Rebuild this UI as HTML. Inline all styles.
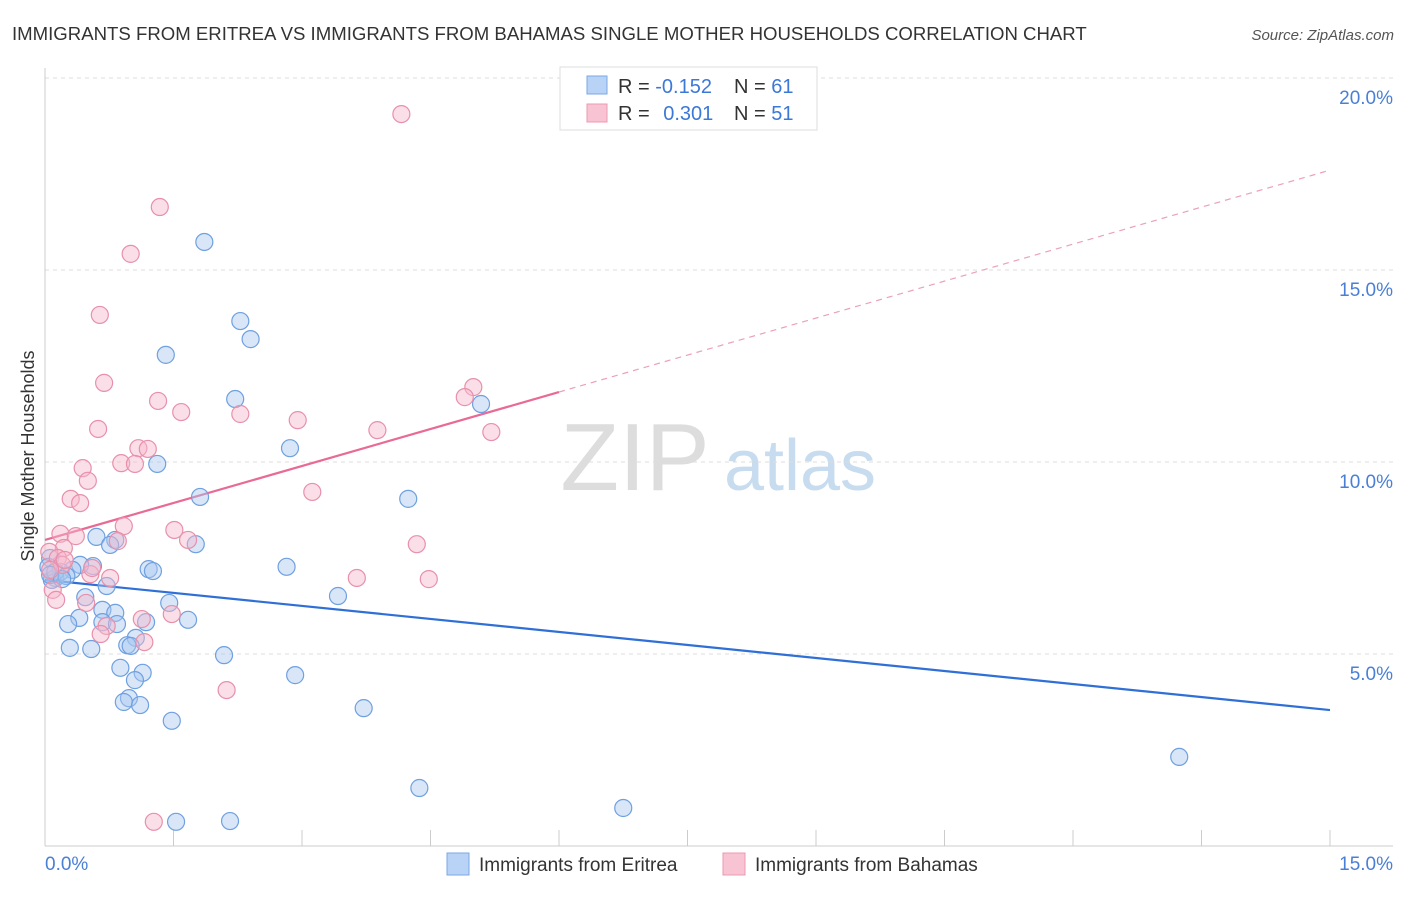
<!DOCTYPE html>
<html><head><meta charset="utf-8"><style>
body{margin:0;background:#fff;font-family:"Liberation Sans",sans-serif;}
svg text{font-family:"Liberation Sans",sans-serif;}
</style></head><body>
<svg id="chart" width="1406" height="892" xmlns="http://www.w3.org/2000/svg">
<text x="12" y="40" font-size="18.6" fill="#333">IMMIGRANTS FROM ERITREA VS IMMIGRANTS FROM BAHAMAS SINGLE MOTHER HOUSEHOLDS CORRELATION CHART</text>
<text x="1394" y="40" font-size="15" fill="#555" text-anchor="end" font-style="italic">Source: ZipAtlas.com</text>
<text transform="translate(34,456) rotate(-90)" font-size="18" fill="#333" text-anchor="middle">Single Mother Households</text>
<g>
<text x="635" y="490" font-size="96" fill="#ddd" text-anchor="middle" font-family="Liberation Serif">ZIP</text>
<text x="800" y="490" font-size="72" fill="#c8dcf0" text-anchor="middle">atlas</text>
</g>
<g id="grid"></g><g id="axes"></g><g id="lines"></g><g id="pts"></g>
<g>
<rect x="560" y="67" width="257" height="63" fill="#fff" stroke="#ddd"/>
<rect x="587" y="76" width="20" height="18" fill="#b8d3f5" stroke="#7aa8e6"/>
<rect x="587" y="104" width="20" height="18" fill="#f8c3d3" stroke="#eb98b2"/>
<text x="618" y="93" font-size="20" fill="#333">R = <tspan fill="#3b78d8">-0.152</tspan></text>
<text x="734" y="93" font-size="20" fill="#333">N = <tspan fill="#3b78d8">61</tspan></text>
<text x="618" y="120" font-size="20" fill="#333">R = <tspan fill="#3b78d8" dx="8">0.301</tspan></text>
<text x="734" y="120" font-size="20" fill="#333">N = <tspan fill="#3b78d8">51</tspan></text>
</g>
<g>
<rect x="447" y="853" width="22" height="22" fill="#b8d3f5" stroke="#7aa8e6"/>
<text x="479" y="871" font-size="19" fill="#333">Immigrants from Eritrea</text>
<rect x="723" y="853" width="22" height="22" fill="#f8c3d3" stroke="#eb98b2"/>
<text x="755" y="871" font-size="19" fill="#333">Immigrants from Bahamas</text>
</g>
</svg>
<script>
const blueX=[1.86,2.28,2.40,1.41,2.22,5.09,2.86,1.31,4.24,1.81,0.82,0.60,0.76,1.76,2.82,1.21,1.26,0.56,0.41,0.32,0.12,0.18,0.06,0.08,0.72,0.47,3.42,1.45,0.67,0.82,0.40,0.27,0.67,0.84,1.67,1.18,1.06,0.96,1.00,0.29,0.54,2.09,0.88,1.14,1.05,2.92,0.98,0.92,1.11,3.72,1.48,13.24,4.37,6.75,1.53,2.16,0.04,0.12,0.25,0.06,0.20];
const blueY=[15.73,13.67,13.20,12.79,11.64,11.51,10.36,9.95,9.04,9.09,7.97,8.05,7.84,7.86,7.27,7.21,7.16,7.29,7.32,7.19,6.98,7.14,7.50,6.93,6.77,6.48,6.51,6.33,6.15,6.07,5.94,5.78,5.83,5.78,5.89,5.83,5.42,5.23,5.21,5.16,5.13,4.97,4.64,4.51,4.32,4.45,3.85,3.75,3.67,3.59,3.26,2.32,1.51,0.99,0.63,0.65,7.27,7.14,7.03,7.06,6.95];
const pinkX=[4.16,1.34,1.00,0.64,0.69,5.00,4.90,1.32,1.59,2.28,2.95,3.88,0.62,5.21,1.09,1.20,0.89,1.05,0.44,0.50,0.30,0.41,3.12,0.92,1.51,0.18,1.67,0.85,0.36,4.34,0.22,0.05,0.15,0.53,0.76,3.64,4.48,0.55,0.20,0.06,0.09,0.13,0.48,1.13,1.48,0.72,0.65,1.16,2.12,1.27,0.23];
const pinkY=[19.06,16.64,15.42,13.83,12.06,11.95,11.69,11.59,11.30,11.25,11.09,10.83,10.86,10.78,10.36,10.34,9.97,9.95,9.84,9.51,9.04,8.93,9.22,8.33,8.23,8.13,7.97,7.94,8.07,7.86,7.76,7.66,7.50,7.08,6.98,6.98,6.95,7.24,7.32,7.19,6.67,6.41,6.33,5.91,6.04,5.73,5.52,5.31,4.06,0.63,7.45];
const yTicks=[5,10,15,20];
const yTickLabels=["5.0%","10.0%","15.0%","20.0%"];
const xTickCount=10;
const blueFit=[6.93,3.54];
const pinkFit=[7.97,17.6];
const pinkSolidEnd=6.0;
const NS="http://www.w3.org/2000/svg";
const sx=v=>45+v/15*1285, sy=v=>846-v/5*192;
function mk(tag,attrs,parent){const e=document.createElementNS(NS,tag);for(const k in attrs)e.setAttribute(k,attrs[k]);document.getElementById(parent).appendChild(e);return e;}
yTicks.forEach((t,i)=>{
 const l=mk('line',{x1:45,x2:1393,y1:sy(t),y2:sy(t),stroke:'#ddd','stroke-dasharray':'4,4'},'grid');
 
 
 const tx=mk('text',{x:1393,y:sy(t)+26,'font-size':19,fill:'#4a7fd6','text-anchor':'end'},'axes');tx.textContent=yTickLabels[i];
 
 
});
const ya=mk('line',{x1:45,x2:45,y1:68,y2:846,stroke:'#ccc'},'axes');


const xa=mk('line',{x1:45,x2:1393,y1:846,y2:846,stroke:'#ccc'},'axes');


for(let i=0;i<=xTickCount;i++){const v=i*1.5;const t=mk('line',{x1:sx(v),x2:sx(v),y1:830,y2:846,stroke:'#ccc'},'axes');
 
 }
const x0=mk('text',{x:45,y:870,'font-size':19,fill:'#4a7fd6'},'axes');x0.textContent='0.0%';


const x1=mk('text',{x:1393,y:870,'font-size':19,fill:'#4a7fd6','text-anchor':'end'},'axes');x1.textContent='15.0%';


function dots(X,Y,fill,stroke,name){X.forEach((x,i)=>{const c=mk('circle',{cx:sx(x),cy:sy(Y[i]),r:8.5,fill:fill,'fill-opacity':0.45,stroke:stroke,'stroke-width':1.2},'pts');
 
 });}
dots(blueX,blueY,'#a9c8f0','#6fa0e0','eritrea-point');
dots(pinkX,pinkY,'#f6b8cb','#e890ab','bahamas-point');
const bl=mk('line',{x1:sx(0),y1:sy(blueFit[0]),x2:sx(15),y2:sy(blueFit[1]),stroke:'#2f6fd6','stroke-width':2.2},'lines');


const pm=pinkFit[0]+(pinkFit[1]-pinkFit[0])*pinkSolidEnd/15;
const pl=mk('line',{x1:sx(0),y1:sy(pinkFit[0]),x2:sx(pinkSolidEnd),y2:sy(pm),stroke:'#e86a95','stroke-width':2.2},'lines');


const pd=mk('line',{x1:sx(pinkSolidEnd),y1:sy(pm),x2:sx(15),y2:sy(pinkFit[1]),stroke:'#eba0b8','stroke-width':1.2,'stroke-dasharray':'6,5'},'lines');


</script>
</body></html>
